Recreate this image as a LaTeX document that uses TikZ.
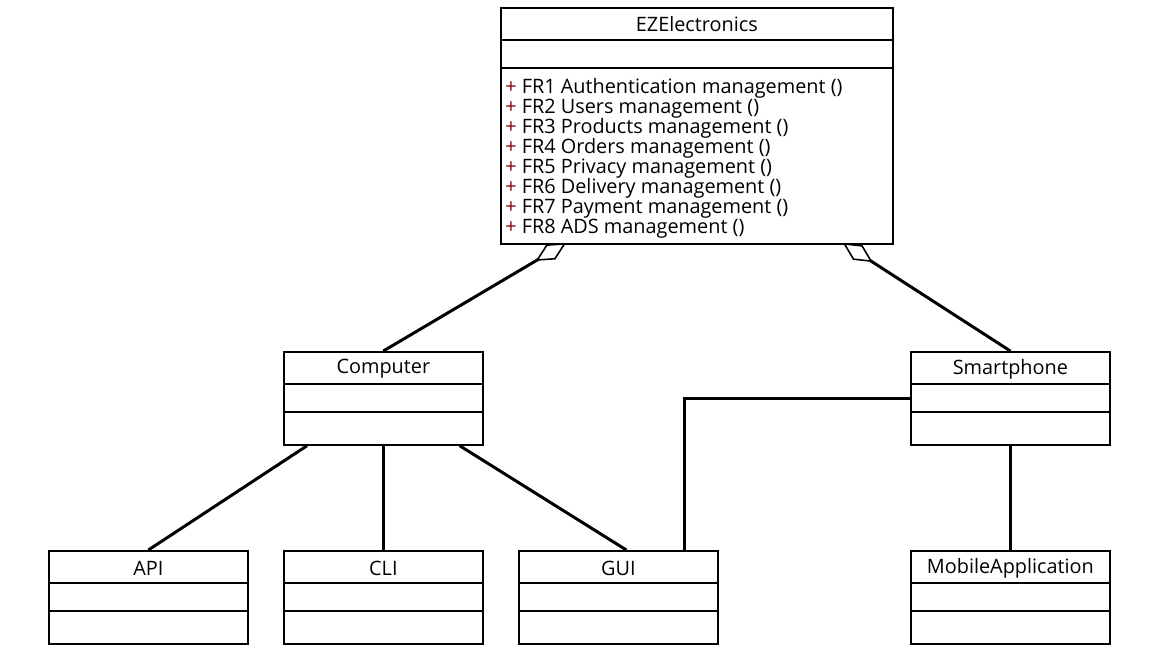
\documentclass[tikz,border=0pt]{standalone}
\usepackage{fontspec}
\setmainfont{Open Sans}
\usetikzlibrary{arrows.meta,calc}
\definecolor{plusred}{RGB}{128,0,0}
\newcommand{\op}{\textcolor{plusred}{+}}
\tikzset{
  box/.style={draw, line width=1pt, anchor=north west, inner sep=0pt,
    minimum width=3.98cm, minimum height=1.86cm},
  sep/.style={line width=0.9pt},
  title/.style={font=\fontsize{11.3}{13}\selectfont, inner sep=0pt},
  link/.style={line width=1.7pt},
  agg/.style={link, -{Diamond[open, length=20pt, width=10pt, line width=0.9pt]}},
}
\begin{document}
\begin{tikzpicture}[x=0.02cm, y=-0.02cm]
   \useasboundingbox (0,0) rectangle (1155,663);
   % classes
   \node[box, minimum width=7.84cm, minimum height=4.72cm] (ez) at (500,7) {};
   \node[box] (comp) at (283,351) {};
   \node[box] (phone) at (910,351) {};
   \node[box] (api) at (48,550) {};
   \node[box] (cli) at (283,550) {};
   \node[box] (gui) at (518,550) {};
   \node[box] (mobile) at (910,550) {};
   \foreach \n in {ez,comp,phone,api,cli,gui,mobile}{
     \draw[sep] ($(\n.north west)+(0,33)$) -- ($(\n.north east)+(0,33)$);
     \draw[sep] ($(\n.north west)+(0,61)$) -- ($(\n.north east)+(0,61)$);
   }
   \node[title] (ezT) at ($(ez.north)+(0,17)$) {EZElectronics};
   \node[title] (compT) at ($(comp.north)+(0,18)$) {Computer};
   \node[title] (phoneT) at ($(phone.north)+(0,18)$) {Smartphone};
   \node[title] (apiT) at ($(api.north)+(0,18)$) {API};
   \node[title] (cliT) at ($(cli.north)+(0,18)$) {CLI};
   \node[title] (guiT) at ($(gui.north)+(0,18)$) {GUI};
   \node[title] (mobileT) at ($(mobile.north)+(0,18)$) {MobileApplication};
   \node[anchor=north west, inner sep=0pt, align=left,
     font=\fontsize{11.3}{11.4}\selectfont] (ezOps) at (505,78)
     {\op{} FR1 Authentication management ()\\
      \op{} FR2 Users management ()\\
      \op{} FR3 Products management ()\\
      \op{} FR4 Orders management ()\\
      \op{} FR5 Privacy management ()\\
      \op{} FR6 Delivery management ()\\
      \op{} FR7 Payment management ()\\
      \op{} FR8 ADS management ()};
   % aggregations
   \coordinate (ezL) at (566,243);
   \coordinate (ezR) at (843,243);
   \draw[agg] (comp.north) -- (ezL);
   \draw[agg] (phone.north) -- (ezR);
   % links
   \draw[link] ($(comp.south west)+(24,0)$) -- (api.north);
   \draw[link] (comp.south) -- (cli.north);
   \draw[link] ($(comp.south east)+(-24,0)$) -- ($(gui.north)+(8,0)$);
   \draw[link] (phone.west) -| ($(gui.north east)+(-34,0)$);
   \draw[link] (phone.south) -- (mobile.north);
 \end{tikzpicture}
\end{document}
